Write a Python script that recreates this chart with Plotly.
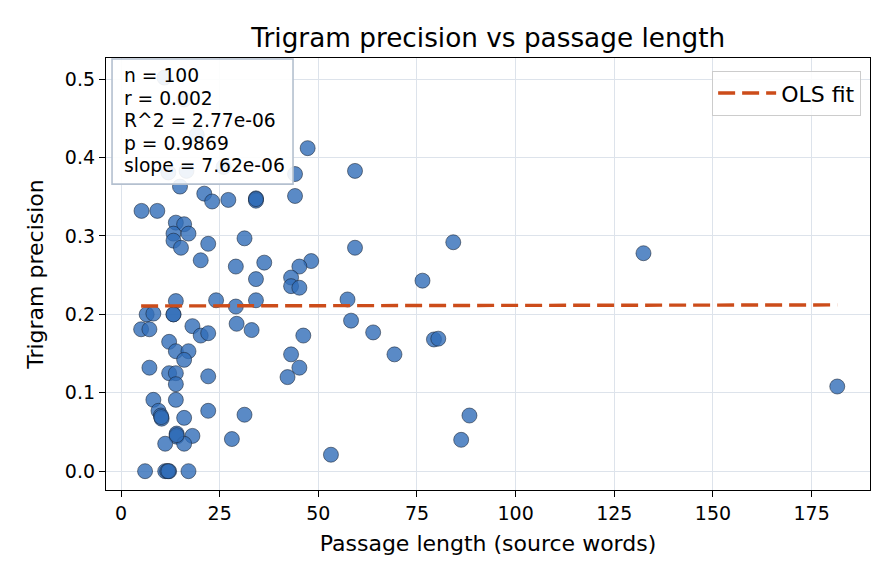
import plotly.graph_objects as go

# Passage length (source words) and trigram precision
passage_length = [
    14.95, 21.1, 23.1, 27.2, 34.2, 34.2, 5.2, 9.2, 13.9, 16.0,
    13.3, 17.1, 13.3, 15.2, 22.1, 31.3, 20.2, 29.1, 34.2, 13.9,
    24.1, 29.1, 34.2, 6.5, 8.2, 13.3, 5.1, 7.2, 18.1, 20.2,
    22.1, 29.3, 33.1, 12.2, 13.9, 17.1, 16.0, 7.2, 12.2, 13.9,
    22.1, 13.9, 8.2, 13.9, 9.5, 10.1, 10.3, 16.0, 22.1, 31.3,
    14.1, 14.1, 18.1, 11.2, 16.0, 28.1, 6.1, 11.2, 12.2, 17.1,
    47.3, 59.3, 44.1, 44.1, 59.3, 36.3, 48.2, 45.2, 43.1, 43.1,
    45.2, 57.4, 58.3, 46.2, 43.1, 45.2, 42.2, 53.2, 63.9, 84.2,
    76.4, 69.3, 79.3, 80.4, 88.3, 86.2, 132.4, 181.5, 11.0, 16.0,
    19.2, 12.0, 16.6, 26.0, 11.7, 12.0, 10.2, 14.1, 34.2, 13.3,
]
trigram_precision = [
    0.363, 0.354, 0.344, 0.346, 0.348, 0.345, 0.332, 0.332, 0.317, 0.315,
    0.303, 0.303, 0.294, 0.285, 0.290, 0.297, 0.269, 0.261, 0.245, 0.217,
    0.218, 0.210, 0.218, 0.200, 0.201, 0.200, 0.181, 0.181, 0.185, 0.173,
    0.176, 0.188, 0.180, 0.165, 0.153, 0.153, 0.142, 0.132, 0.125, 0.125,
    0.121, 0.111, 0.091, 0.091, 0.077, 0.071, 0.067, 0.068, 0.077, 0.072,
    0.048, 0.044, 0.045, 0.035, 0.035, 0.041, 0.000, 0.000, 0.000, 0.000,
    0.412, 0.383, 0.379, 0.351, 0.285, 0.266, 0.268, 0.261, 0.247, 0.236,
    0.234, 0.219, 0.192, 0.173, 0.149, 0.132, 0.120, 0.021, 0.177, 0.292,
    0.243, 0.149, 0.168, 0.169, 0.071, 0.040, 0.278, 0.108, 0.502, 0.474,
    0.429, 0.381, 0.383, 0.388, 0.000, 0.000, 0.069, 0.046, 0.347, 0.200,
]

# OLS fit parameters (from the chart annotation)
ols_slope = 7.62e-06
ols_intercept = 0.2107
stats_lines = ["n = 100", "r = 0.002", "R^2 = 2.77e-06", "p = 0.9869", "slope = 7.62e-06"]

x_ticks = [0, 25, 50, 75, 100, 125, 150, 175]
y_ticks = [0.0, 0.1, 0.2, 0.3, 0.4, 0.5]

fit_x = [min(passage_length), max(passage_length)]
fit_y = [ols_intercept + ols_slope * v for v in fit_x]

fig = go.Figure()
fig.add_trace(go.Scatter(
    x=passage_length, y=trigram_precision, mode="markers",
    marker=dict(size=15, color="rgba(49,109,184,0.8)",
                line=dict(color="rgba(20,30,45,0.9)", width=0.6)),
    showlegend=False, hoverinfo="skip",
))
fig.add_trace(go.Scatter(
    x=fit_x, y=fit_y, mode="lines", name="OLS fit",
    line=dict(color="#cc4c1a", width=3.4, dash="17px,7px"),
))

font_family = "DejaVu Sans"
axis_common = dict(
    showline=True, linecolor="black", linewidth=1.3, mirror=True,
    ticks="outside", ticklen=6, tickwidth=1.3, tickcolor="black",
    showgrid=True, gridcolor="#dde3eb", gridwidth=1.3, zeroline=False,
    tickfont=dict(family=font_family, size=19, color="black"),
)

# Stats box: layout in paper coordinates
box_x0, box_x1, box_y0, box_y1 = 0.0079, 0.2448, 0.708, 0.9977
line_x = 0.0209
line_y = [0.9606, 0.9074, 0.8542, 0.8032, 0.7523]

annotations = [dict(
    xref="paper", yref="paper", x=line_x, y=yy, xanchor="left", yanchor="middle",
    text=t, showarrow=False, font=dict(size=18.7, family=font_family, color="black"),
) for t, yy in zip(stats_lines, line_y)]

fig.update_layout(
    width=896, height=584,
    margin=dict(l=106, r=26, t=58, b=94),
    paper_bgcolor="white", plot_bgcolor="white",
    font=dict(family=font_family, color="black"),
    title=dict(text="Trigram precision vs passage length", x=0.545, xanchor="center",
               y=0.935, yanchor="middle", font=dict(size=26.3, family=font_family)),
    xaxis=dict(title=dict(text="Passage length (source words)", font=dict(size=22), standoff=12),
               range=[-3.8, 189.8], tickvals=x_ticks, **axis_common),
    yaxis=dict(title=dict(text="Trigram precision", font=dict(size=22), standoff=15),
               range=[-0.024, 0.527], tickvals=y_ticks, tickformat=".1f", **axis_common),
    legend=dict(x=0.988, y=0.97, xanchor="right", yanchor="top", itemwidth=58,
                bgcolor="rgba(255,255,255,0.85)", bordercolor="#cccccc", borderwidth=1.3,
                font=dict(size=22, family=font_family)),
    shapes=[dict(type="rect", xref="paper", yref="paper", x0=box_x0, x1=box_x1,
                 y0=box_y0, y1=box_y1, layer="above",
                 fillcolor="rgba(255,255,255,0.9)", line=dict(color="#b4c0cf", width=1.6))],
    annotations=annotations,
)

fig.write_html("out.html")
